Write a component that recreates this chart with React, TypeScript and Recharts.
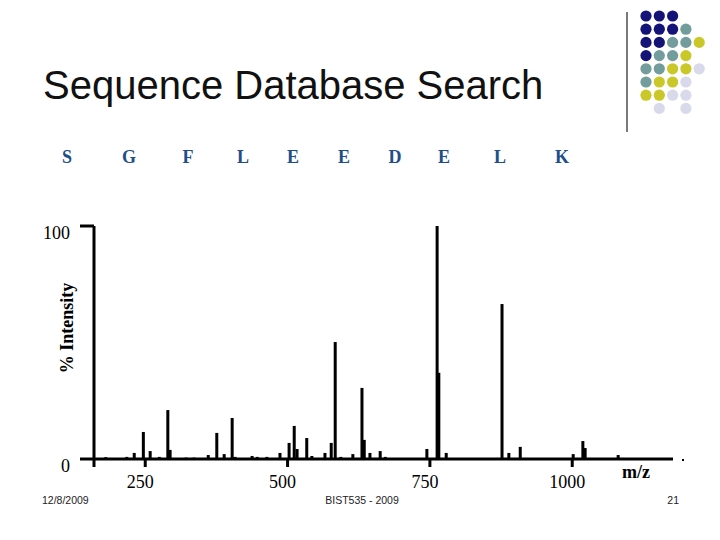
import { Bar, BarChart, XAxis, YAxis } from 'recharts'

// peak positions (m/z) and relative intensities (%)
const peakMz = [
  181, 218, 231, 247, 259, 275, 290, 294, 322, 336, 361, 376, 389, 403, 408,
  438, 447, 464, 487, 503, 512, 517, 534, 543, 566, 577, 584, 594, 615, 631,
  635, 645, 663, 672, 745, 763, 766, 779, 877, 889, 909, 1002, 1019, 1023, 1081,
]
const peakIntensity = [
  0.8, 0.9, 2.6, 11.6, 3.4, 0.9, 21.0, 3.9, 0.6, 0.6, 1.7, 11.2, 2.1, 17.6, 0.9,
  1.3, 0.9, 0.9, 2.6, 6.9, 14.2, 4.3, 9.0, 1.3, 2.6, 6.9, 50.2, 0.9, 2.1, 30.5,
  8.2, 2.6, 3.4, 0.9, 4.3, 100, 37, 2.6, 66.5, 2.6, 5.2, 2.1, 7.7, 4.7, 1.7,
]
const mzTicks = [250, 500, 750, 1000]
const intensityTicks = [0, 100]

const residues = ['S', 'G', 'F', 'L', 'E', 'E', 'D', 'E', 'L', 'K']
const residueX = [67, 129, 188, 243, 293, 344, 395, 444, 500, 562]

// corner decoration, one string per row: n navy, t teal, y yellow, l lavender
const dotRows = ['nnn..', 'nnnt.', 'nntty', 'ntty.', 'ttyyl', 'tyyl.', 'yyll.', '.l.l.']
const dotColors: Record<string, string> = {
  n: '#141478',
  t: '#739c9c',
  y: '#c9c828',
  l: '#d9d9ec',
}

const spectrum = peakMz.map((mz, i) => ({ mz, v: peakIntensity[i] }))

const serif = '"Liberation Serif", "Times New Roman", serif'
const sans = '"Liberation Sans", Arial, sans-serif'

const PeakShape = (props: any) => {
  const { x, y, width, height } = props
  if (!height || height <= 0) return null
  const cx = x + width / 2
  return <rect x={cx - 1.5} y={y} width={3} height={height} fill="#000" />
}

const MzTick = ({ x, y, payload }: any) => (
  <text x={x - 5} y={y} dy="0.71em" textAnchor="middle" fontFamily={serif} fontSize={18} fill="#000">
    {payload.value}
  </text>
)

const IntensityTick = ({ x, y, payload }: any) => (
  <text x={x} y={y + 7} dy="0.35em" textAnchor="end" fontFamily={serif} fontSize={18} fill="#000">
    {payload.value}
  </text>
)

export default function App() {
  return (
    <div style={{ position: 'absolute', left: 0, top: 0, width: 720, height: 540, background: '#fff' }}>
      <BarChart
        width={720}
        height={540}
        data={spectrum}
        margin={{ top: 226, right: 47, bottom: 51, left: 44 }}
      >
        <XAxis
          dataKey="mz"
          type="number"
          domain={[160, 1177]}
          ticks={mzTicks}
          height={30}
          axisLine={{ stroke: '#000', strokeWidth: 3 }}
          tickLine={{ stroke: '#000', strokeWidth: 3 }}
          tickSize={8}
          tickMargin={8}
          tick={<MzTick />}
        />
        <YAxis
          type="number"
          domain={[0, 100]}
          ticks={intensityTicks}
          width={50}
          axisLine={{ stroke: '#000', strokeWidth: 3 }}
          tickLine={{ stroke: '#000', strokeWidth: 3 }}
          tickSize={14}
          tickMargin={10}
          tick={<IntensityTick />}
        />
        <Bar dataKey="v" fill="#000" shape={<PeakShape />} isAnimationActive={false} />
      </BarChart>

      <svg
        width={720}
        height={540}
        style={{ position: 'absolute', left: 0, top: 0, pointerEvents: 'none' }}
      >
        <text x={43} y={99} fontFamily={sans} fontSize={40} fill="#111">
          Sequence Database Search
        </text>
        <line x1={627} y1={12} x2={627} y2={132} stroke="#222" strokeWidth={1.2} />
        {dotRows.map((row, r) =>
          row.split('').map((c, k) =>
            c === '.' ? null : (
              <circle key={`${r}-${k}`} cx={646 + k * 13.3} cy={16 + r * 13.2} r={5.6} fill={dotColors[c]} />
            ),
          ),
        )}
        {residues.map((res, i) => (
          <text
            key={i}
            x={residueX[i]}
            y={163}
            textAnchor="middle"
            fontFamily={serif}
            fontWeight="bold"
            fontSize={18}
            fill="#1f4e89"
          >
            {res}
          </text>
        ))}
        <text
          x={73}
          y={328}
          transform="rotate(-90 73 328)"
          textAnchor="middle"
          fontFamily={serif}
          fontWeight="bold"
          fontSize={18}
          fill="#000"
        >
          % Intensity
        </text>
        <line x1={94} y1={459} x2={94} y2={467} stroke="#000" strokeWidth={3} />
        <text x={636} y={478} textAnchor="middle" fontFamily={serif} fontWeight="bold" fontSize={18} fill="#000">
          m/z
        </text>
        <rect x={682} y={459} width={2} height={2} fill="#000" />
        <text x={42} y={504} fontFamily={sans} fontSize={10.5} fill="#222">
          12/8/2009
        </text>
        <text x={362} y={504} textAnchor="middle" fontFamily={sans} fontSize={10.5} fill="#222">
          BIST535 - 2009
        </text>
        <text x={679} y={504} textAnchor="end" fontFamily={sans} fontSize={10.5} fill="#222">
          21
        </text>
      </svg>
    </div>
  )
}
